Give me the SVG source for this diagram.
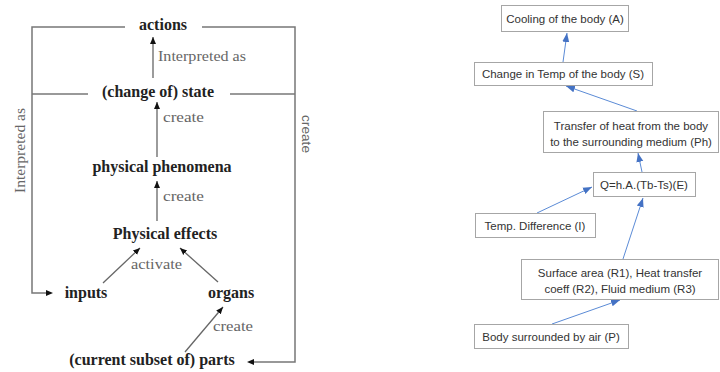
<svg xmlns="http://www.w3.org/2000/svg" width="720" height="372" viewBox="0 0 720 372">
<style>
.bl{font-family:"Liberation Serif",serif;font-weight:bold;font-size:16px;fill:#222;text-anchor:middle}
.gl{font-family:"Liberation Serif",serif;font-size:15px;fill:#666}
.fr{fill:none;stroke:#777;stroke-width:1.5}
.la{fill:none;stroke:#666;stroke-width:1.3;marker-end:url(#ka)}
.bx{fill:#fff;stroke:#a6a6a6;stroke-width:1}
.rt{font-family:"Liberation Sans",sans-serif;font-size:11.5px;fill:#333;text-anchor:middle}
.ba{fill:none;stroke:#5b8bd6;stroke-width:1;marker-end:url(#ba)}
</style>
<defs>
<marker id="ka" markerUnits="userSpaceOnUse" markerWidth="8" markerHeight="8" refX="7" refY="4" orient="auto">
<path d="M0,1 L7,4 L0,7 Z" fill="#111"/>
</marker>
<marker id="ba" markerUnits="userSpaceOnUse" markerWidth="10" markerHeight="10" refX="9" refY="5" orient="auto">
<path d="M0,1.5 L9,5 L0,8.5 Z" fill="#4472c4"/>
</marker>
</defs>
<rect width="720" height="372" fill="#fff"/>

<g id="connectors">
<path class="fr" d="M125,27 H32 V293 H46"/>
<path d="M46,290 L53,293 L46,296 Z" fill="#111"/>
<path class="fr" d="M202,27 H295 V362 H254"/>
<path d="M254,359 L247,362 L254,365 Z" fill="#111"/>
<line class="fr" x1="32" y1="94" x2="88" y2="94"/>
<line class="fr" x1="230" y1="94" x2="295" y2="94"/>
<line class="la" x1="153" y1="78" x2="153" y2="37"/>
<line class="la" x1="157" y1="157" x2="157" y2="102"/>
<line class="la" x1="157" y1="221" x2="157" y2="181"/>
<line class="la" x1="103" y1="283" x2="140" y2="248"/>
<line class="la" x1="218" y1="282" x2="180" y2="248"/>
<line class="la" x1="185" y1="352" x2="223" y2="307"/>

<line class="ba" x1="563" y1="62" x2="567" y2="33"/>
<line class="ba" x1="637" y1="111" x2="566" y2="86"/>
<line class="ba" x1="642" y1="172" x2="638" y2="153"/>
<line class="ba" x1="537" y1="213" x2="592" y2="187"/>
<line class="ba" x1="623" y1="259" x2="643" y2="198"/>
<line class="ba" x1="552" y1="324" x2="620" y2="300"/>
</g>

<g id="labels-left">
<text class="gl" x="158" y="61" textLength="88" lengthAdjust="spacingAndGlyphs">Interpreted as</text>
<text class="gl" x="163" y="122" textLength="41" lengthAdjust="spacingAndGlyphs">create</text>
<text class="gl" x="163" y="201" textLength="41" lengthAdjust="spacingAndGlyphs">create</text>
<text class="gl" x="131" y="269" textLength="51" lengthAdjust="spacingAndGlyphs">activate</text>
<text class="gl" x="213" y="331" textLength="40" lengthAdjust="spacingAndGlyphs">create</text>
<text class="gl" transform="translate(25,193) rotate(-90)" textLength="85" lengthAdjust="spacingAndGlyphs">Interpreted as</text>
<text transform="translate(302,115) rotate(90)" font-family="Liberation Sans,sans-serif" font-size="13" fill="#666" textLength="38" lengthAdjust="spacingAndGlyphs">create</text>
</g>

<g id="actions"><text class="bl" x="163" y="30">actions</text></g>
<g id="state"><text class="bl" x="158" y="97">(change of) state</text></g>
<g id="phenomena"><text class="bl" x="162" y="172">physical phenomena</text></g>
<g id="effects"><text class="bl" x="165" y="239">Physical effects</text></g>
<g id="inputs"><text class="bl" x="86" y="298">inputs</text></g>
<g id="organs"><text class="bl" x="231" y="298">organs</text></g>
<g id="parts"><text class="bl" x="152" y="365">(current subset of) parts</text></g>

<g id="nodeA"><rect class="bx" x="501.5" y="5.5" width="127" height="26"/><text class="rt" x="565" y="23">Cooling of the body (A)</text></g>
<g id="nodeS"><rect class="bx" x="474.5" y="62.5" width="178" height="23"/><text class="rt" x="563" y="78">Change in Temp of the body (S)</text></g>
<g id="nodePh"><rect class="bx" x="543.5" y="111.5" width="175" height="41"/><text class="rt" x="631" y="130">Transfer of heat from the body</text><text class="rt" x="631" y="146">to the surrounding medium (Ph)</text></g>
<g id="nodeE"><rect class="bx" x="593.5" y="172.5" width="102" height="24"/><text class="rt" x="644" y="189">Q=h.A.(Tb-Ts)(E)</text></g>
<g id="nodeI"><rect class="bx" x="475.5" y="213.5" width="120" height="24"/><text class="rt" x="535" y="230">Temp. Difference (I)</text></g>
<g id="nodeR"><rect class="bx" x="521.5" y="259.5" width="197" height="40"/><text class="rt" x="620" y="277">Surface area (R1), Heat transfer</text><text class="rt" x="620" y="293">coeff (R2), Fluid medium (R3)</text></g>
<g id="nodeP"><rect class="bx" x="474.5" y="324.5" width="154" height="24"/><text class="rt" x="551" y="341">Body surrounded by air (P)</text></g>
</svg>
